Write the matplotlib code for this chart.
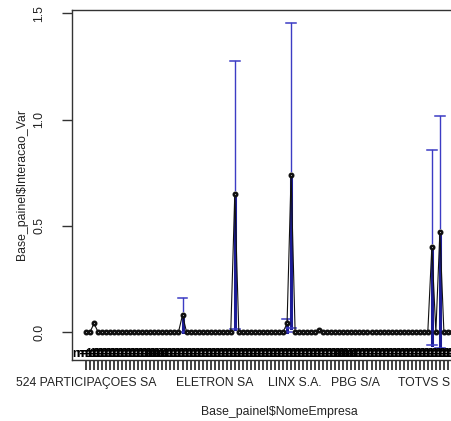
import numpy as np
import matplotlib
matplotlib.use("Agg")
import matplotlib.pyplot as plt

plt.rcParams['font.family'] = ['Liberation Sans', 'DejaVu Sans']

# Data (plotmeans style, one group per company)
n_groups = 95
label_pos = [0, 32, 52, 67, 86]
label_txt = ["524 PARTICIPAÇOES SA", "ELETRON SA", "LINX S.A.", "PBG S/A", "TOTVS S.A."]

# groups whose mean is not zero
nz_idx = [2, 24, 37, 50, 51, 58, 86, 88]
nz_mean = [0.04, 0.08, 0.65, 0.04, 0.74, 0.01, 0.40, 0.47]
nz_low = [0.04, 0.0, 0.015, 0.0, 0.02, 0.0, -0.06, -0.075]
nz_up = [0.04, 0.16, 1.275, 0.06, 1.455, 0.02, 0.855, 1.015]
n_obs = "n=10"

x = np.arange(n_groups)
means = np.zeros(n_groups)
means[nz_idx] = nz_mean

W, H = 452, 421
fig = plt.figure(figsize=(W / 100, H / 100), dpi=100)
ax = fig.add_axes([72 / W, 61 / H, 406 / W, 350 / H])
ax.set_xlim(-3.48, n_groups - 1 + 3.48)
ax.set_ylim(-0.132, 1.516)

blue_up = '#3c3cc4'
blue_low = '#1c1c96'
gap = 0.018
# confidence bars
for i, m, lo, up in zip(nz_idx, nz_mean, nz_low, nz_up):
    if up - m > gap:
        ax.plot([i, i], [m + gap, up], color=blue_up, lw=1.0, zorder=2)
        ax.plot([i - 1.2, i + 1.2], [up, up], color=blue_up, lw=1.1, zorder=2)
    if m - lo > gap:
        ax.plot([i, i], [m - gap, lo], color=blue_low, lw=2.2, zorder=2)
        ax.plot([i - 1.2, i + 1.2], [lo, lo], color=blue_up, lw=1.1, zorder=2)

# line joining the means and the mean points
ax.plot(x, means, color='#111111', lw=0.8, zorder=3)
ax.plot(x, means, 'o', ms=2.5, mfc='white', mec='#111111', mew=1.8, zorder=4)

# n labels at the bottom of the plot
for i in x:
    ax.text(i, -0.131, n_obs, ha='center', va='bottom', fontsize=8.5,
            fontweight='bold', color='black', zorder=5)

ax.set_xticks(x)
labels = [''] * n_groups
for p, t in zip(label_pos, label_txt):
    labels[p] = t
ax.set_xticklabels(labels, fontsize=8.8, color='#222222')
ax.set_yticks([0.0, 0.5, 1.0, 1.5])
ax.set_yticklabels(['0.0', '0.5', '1.0', '1.5'], rotation=90, va='center',
                   fontsize=8.8, color='#222222')
ax.tick_params(axis='x', length=7, width=1.3, pad=5, color='#333333')
ax.tick_params(axis='y', length=7, width=1, pad=12, color='#333333')
for s in ax.spines.values():
    s.set_color('#333333')
    s.set_linewidth(1)

fig.text(279 / W, 1 - 412 / H, r'Base_painel\$NomeEmpresa', ha='center', va='center',
         fontsize=8.8, color='#222222')
fig.text(22 / W, 1 - 185 / H, r'Base_painel\$Interacao_Var', ha='center', va='center',
         rotation=90, fontsize=8.8, color='#222222')

fig.savefig('out.png', dpi=100)
